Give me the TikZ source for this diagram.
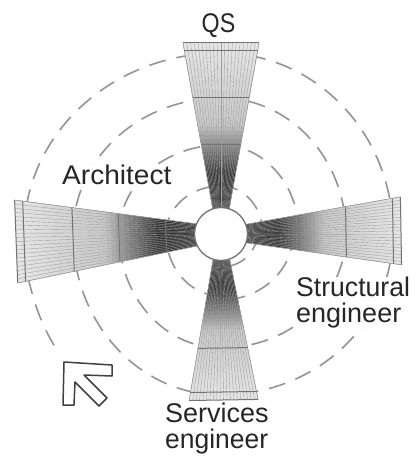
\documentclass[tikz,border=0pt]{standalone}
\usepackage{fontspec}
\setmainfont{Liberation Sans}
\tikzset{
  ring/.style={draw=black!42, line width=1.6pt, dash pattern=on 17pt off 11pt},
  lbl/.style={inner sep=0pt, fill=white, text=black!85, font=\fontsize{27}{25.5}\selectfont},
  hatch/.style={draw=black!38, line width=0.35pt},
  xline/.style={draw=black!55, line width=1pt},
  sideline/.style={draw=black!40, line width=0.5pt},
  arrowoutline/.style={draw=black!75, line width=1.5pt, fill=white, line join=round},
}
\newcommand{\qarc}[4]{%
  \draw[ring] plot[domain=#1:#2, samples=40, smooth] ({221+#3*cos(\x)},{234+#4*sin(\x)});}
% #1 angle, #2 R, #3 w0, #4 W, #5 crossings, #6 cap inner radius
\newcommand{\drawsector}[6]{%
\begin{scope}[shift={(221,234)}, rotate=#1]
  \foreach \i in {0,...,39}{%
    \pgfmathsetmacro{\ta}{\i/40}
    \pgfmathsetmacro{\tb}{min(1,(\i+1.6)/40)}
    \pgfmathsetmacro{\ra}{24+\ta*(#2-24)}
    \pgfmathsetmacro{\rb}{24+\tb*(#2-24)}
    \pgfmathsetmacro{\wa}{#3+\ta*(#4-#3)}
    \pgfmathsetmacro{\wb}{#3+\tb*(#4-#3)}
    \pgfmathtruncatemacro{\g}{\ta<0.2 ? 80 : (\ta<0.5 ? 80-(\ta-0.2)*193 : 22-(\ta-0.5)*24)}
    \fill[black!\g] (\ra,-\wa) -- (\rb,-\wb) -- (\rb,\wb) -- (\ra,\wa) -- cycle;
  }
  \foreach \k in {0,...,20}{%
    \pgfmathsetmacro{\s}{\k/10-1}
    \draw[hatch] (24,{\s*#3}) -- (#2,{\s*#4});
  }
  \draw[sideline] (24,-#3) -- (#2,-#4);
  \draw[sideline] (24,#3) -- (#2,#4);
  \foreach \c in {#5}{%
    \pgfmathsetmacro{\wc}{#3+(\c-24)/(#2-24)*(#4-#3)}
    \draw[xline] (\c,-\wc) -- (\c,\wc);
  }
  \pgfmathsetmacro{\wc}{#3+(#6-24)/(#2-24)*(#4-#3)}
  \draw[xline] (#6,-\wc) -- (#6,\wc);
  \draw[xline] (#2,-#4) -- (#2,#4);
\end{scope}}
\begin{document}
\begin{tikzpicture}[x=1pt, y=-1pt]
\useasboundingbox (0,0) rectangle (417,462);
\fill[white] (0,0) rectangle (417,462);
% dashed rings, quadrant by quadrant
% top-right
\qarc{270}{360}{42}{48}
\qarc{270}{360}{78}{89}
\qarc{270}{360}{125}{136}
\qarc{270}{360}{172}{181}
% bottom-right
\qarc{0}{90}{36}{33}
\qarc{0}{90}{72}{66}
\qarc{0}{90}{125}{114}
\qarc{0}{90}{172}{161}
% bottom-left
\qarc{90}{180}{55}{62}
\qarc{90}{180}{102}{114}
\qarc{90}{180}{148}{161}
\qarc{148}{180}{197}{210}
% top-left
\qarc{180}{270}{55}{48}
\qarc{180}{270}{102}{89}
\qarc{180}{270}{148}{136}
\qarc{180}{270}{197}{181}
% sectors
\drawsector{90}{191}{8}{38}{89,136}{183}
\drawsector{182.1}{205}{11}{41.5}{55,102,148}{197}
\drawsector{1}{180}{9}{34}{78,125}{172}
\drawsector{270.9}{166}{8}{34.5}{68,114}{158}
% hub
\node[circle, draw=black!55, line width=1.3pt, fill=white, minimum size=53pt, inner sep=0pt] (hub) at (221,234) {};
% labels
\node[lbl, anchor=base] (qs) at (218.5,33) {\scalebox{0.86}[1]{QS}};
\node[lbl, anchor=base west] (arch) at (62,185) {\scalebox{1.04}[1]{Architect}};
\node[lbl, anchor=north west, align=left] (str) at (296,277)
  {\scalebox{0.985}[1]{Structural}\\\scalebox{1.0}[1]{engineer}};
\node[lbl, anchor=north west, align=left] (ser) at (165,403)
  {\scalebox{1.0}[1]{Services}\\\scalebox{0.98}[1]{engineer}};
% outline arrow
\draw[arrowoutline] (64,362) -- (112,365) -- (112,376) -- (84,375) -- (107,398) -- (99,406)
  -- (75,382) -- (74,405) -- (63,405) -- cycle;
\end{tikzpicture}
\end{document}
